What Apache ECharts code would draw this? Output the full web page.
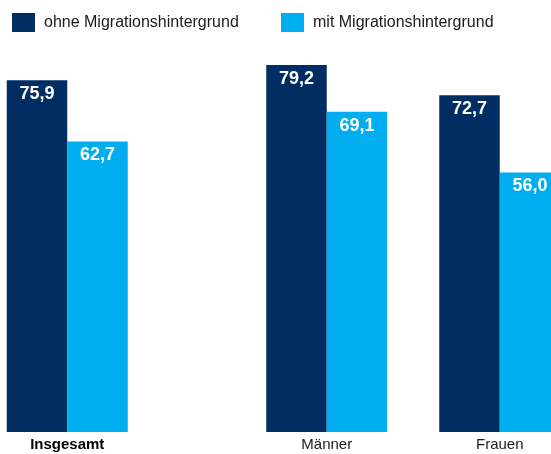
<!DOCTYPE html>
<html>
<head>
<meta charset="utf-8">
<script src="https://cdn.jsdelivr.net/npm/echarts@6/dist/echarts.min.js"></script>
<style>
  html, body { margin: 0; padding: 0; background: #fff; }
  #chart { width: 551px; height: 454px; }
</style>
</head>
<body>
<div id="chart"></div>
<script>
// Groups along the x axis; empty slots keep the wider gap after "Insgesamt".
const categories = ['Insgesamt', '', '', 'Männer', '', 'Frauen'];
const seriesNames = ['ohne Migrationshintergrund', 'mit Migrationshintergrund'];
const ohneMigration = [75.9, null, null, 79.2, null, 72.7];
const mitMigration = [62.7, null, null, 69.1, null, 56.0];

const DARK = '#002d62';
const LIGHT = '#00aeef';
const FONT = '"Liberation Sans", Arial, sans-serif';

const fmt = v => v.toFixed(1).replace('.', ',');

const barLabel = {
  show: true,
  position: 'insideTop',
  distance: 5,
  color: '#fff',
  fontFamily: FONT,
  fontWeight: 'bold',
  fontSize: 18,
  formatter: p => fmt(p.value)
};

const legendText = {
  fontFamily: FONT,
  fontSize: 16,
  color: '#1a1a1a',
  padding: [0, 0, 0, 4]
};

const chart = echarts.init(document.getElementById('chart'), null, { renderer: 'canvas' });
chart.setOption({
  animation: false,
  backgroundColor: '#fff',
  legend: [
    {
      data: [seriesNames[0]], left: 7, top: 8,
      itemWidth: 23, itemHeight: 19, icon: 'rect',
      textStyle: legendText
    },
    {
      data: [seriesNames[1]], left: 276, top: 8,
      itemWidth: 23, itemHeight: 19, icon: 'rect',
      textStyle: legendText
    }
  ],
  grid: { left: 24, right: 8, top: 61.3, bottom: 22, containLabel: false },
  xAxis: {
    type: 'category',
    data: categories,
    axisLine: { show: false },
    axisTick: { show: false },
    axisLabel: {
      interval: 0,
      margin: 5,
      fontFamily: FONT,
      fontSize: 15,
      color: '#1a1a1a',
      formatter: (v, i) => i === 0 ? '{b|' + v + '}' : v,
      rich: { b: { fontFamily: FONT, fontSize: 15, fontWeight: 'bold', color: '#000' } }
    }
  },
  yAxis: {
    type: 'value',
    min: 0,
    max: 80,
    show: false,
    splitLine: { show: false }
  },
  series: [
    {
      name: seriesNames[0], type: 'bar', data: ohneMigration,
      barWidth: 60.5, barGap: '0%', clip: false,
      itemStyle: { color: DARK },
      label: barLabel
    },
    {
      name: seriesNames[1], type: 'bar', data: mitMigration,
      barWidth: 60.5, barGap: '0%', clip: false,
      itemStyle: { color: LIGHT },
      label: barLabel
    }
  ]
});
</script>
</body>
</html>
